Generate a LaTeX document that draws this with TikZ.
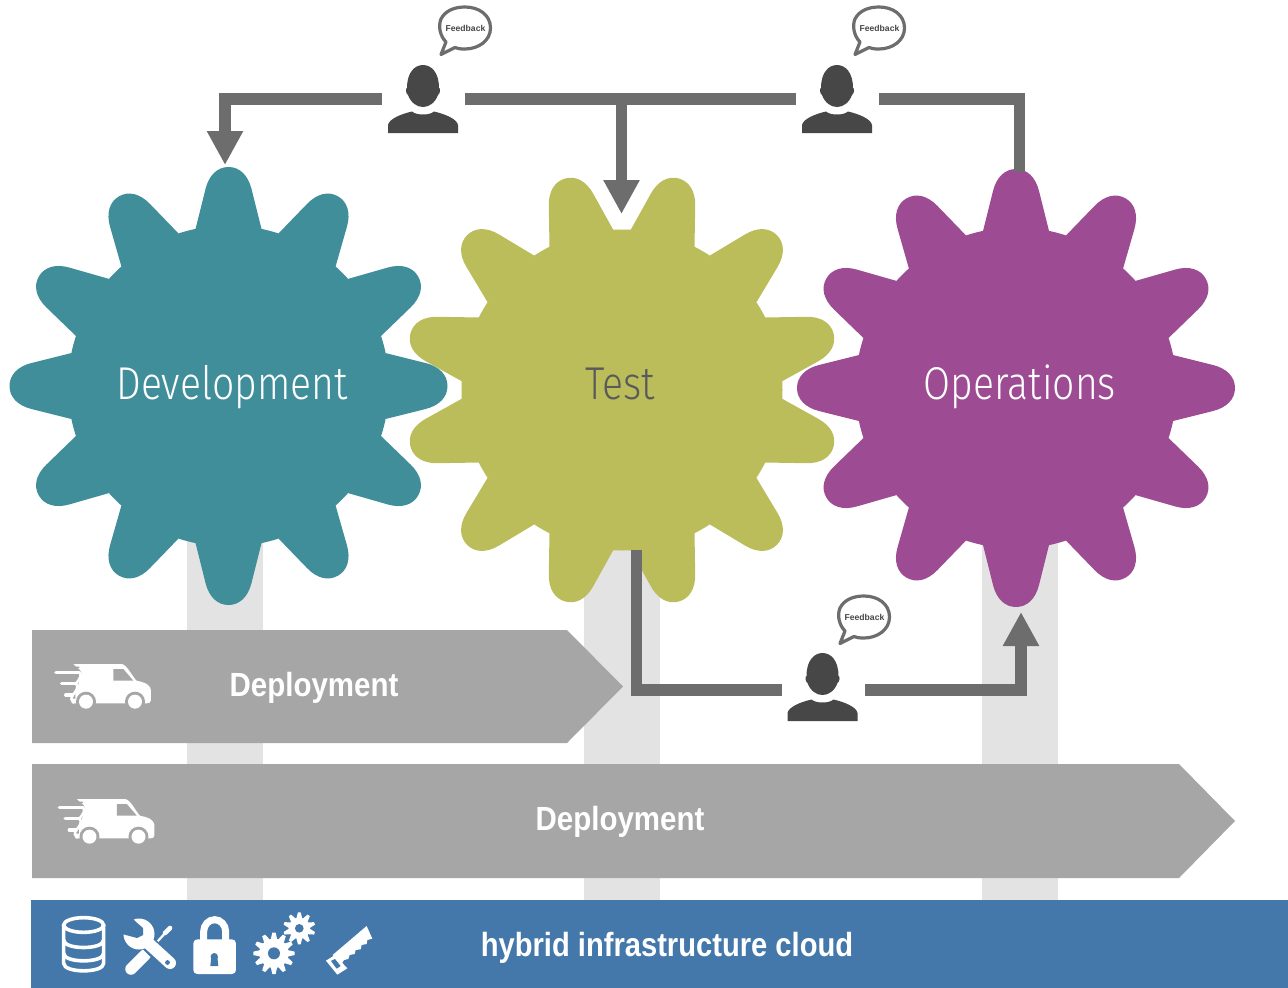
\documentclass[tikz,border=0pt]{standalone}
\usepackage{fontspec}
\setmainfont{Liberation Sans}
\newfontfamily\gearfont{Fira Sans Light}[FakeStretch=0.85]
\newfontfamily\deployfont{Liberation Sans}[FakeStretch=0.88]
\newfontfamily\cloudfont{Liberation Sans}[FakeStretch=0.87]
\usetikzlibrary{arrows.meta}
\definecolor{conn}{HTML}{6D6D6D}
\definecolor{persondark}{HTML}{474747}
\definecolor{bargrey}{HTML}{E3E3E3}
\definecolor{deploygrey}{HTML}{A6A6A6}
\definecolor{cloudblue}{HTML}{4478AB}
\definecolor{gearteal}{HTML}{418E9B}
\definecolor{gearolive}{HTML}{BBBD5B}
\definecolor{gearpurple}{HTML}{9D4C93}
\tikzset{
 x=1pt,y=-1pt,
 connector/.style={draw=conn,line width=11.5pt,line join=miter},
 arrowconn/.style={connector,-{Triangle[width=34pt,length=34pt]}},
 personbox/.style={minimum width=83pt,minimum height=11pt,inner sep=0pt,outer sep=0pt},
 geartext/.style={inner sep=0pt,anchor=base,font=\gearfont\fontsize{46}{50}\selectfont},
 deploytext/.style={inner sep=0pt,text=white,font=\deployfont\bfseries\fontsize{33.5}{36}\selectfont},
 cloudtext/.style={inner sep=0pt,text=white,font=\cloudfont\bfseries\fontsize{33.5}{36}\selectfont},
 feedbacktext/.style={inner sep=0pt,text=persondark,font=\bfseries\fontsize{8.6}{10}\selectfont},
 gearicon/.pic={
  \fill[pic actions] (0,0) circle [radius=160.5];
  \foreach \a in {0,30,...,330}{
   \fill[pic actions,rotate=\a+\gearoff] (-33,-157) -- (-23,-197) .. controls (-19.5,-211) and (-11,-219) .. (0,-219)
     .. controls (11,-219) and (19.5,-211) .. (23,-197) -- (33,-157) -- cycle;
  }
 },
 personicon/.pic={
  \fill[persondark] (-16,-11) .. controls (-16,-27) and (-8,-34) .. (0,-34)
    .. controls (8,-34) and (16,-27) .. (16,-11)
    .. controls (18,-11) and (17,-5) .. (15,-4)
    .. controls (12,4) and (6,8) .. (0,8)
    .. controls (-6,8) and (-12,4) .. (-15,-4)
    .. controls (-17,-5) and (-18,-11) .. (-16,-11) -- cycle;
  \fill[persondark] (-35,34) -- (-35,26) .. controls (-34,20) and (-22,15) .. (-11,12.5)
    .. controls (-8,15) and (-4,15.5) .. (0,15.5)
    .. controls (4,15.5) and (8,15) .. (11,12.5)
    .. controls (22,15) and (34,20) .. (35,26) -- (35,34) -- cycle;
 },
 bubbleicon/.pic={
  \draw[conn,fill=white,line width=3.2pt,line join=round]
    (-19,14) .. controls (-25,8) and (-27,-2) .. (-24,-9)
    .. controls (-20,-17) and (-11,-21) .. (0,-21)
    .. controls (14,-21) and (25.5,-13) .. (25.5,0)
    .. controls (25.5,13) and (13,21) .. (0,21)
    .. controls (-5,21) and (-8,20.5) .. (-10,19.5)
    -- (-24,26.5) -- cycle;
 },
 vanicon/.pic={
  \begin{scope}[x=.3333pt,y=-.3333pt]
  \fill[white] (100,42) -- (245,42) .. controls (262,44) and (280,85) .. (290,92)
    .. controls (310,97) and (333,100) .. (333,125) -- (333,150) .. controls (333,158) and (328,160) .. (320,160)
    -- (100,160) .. controls (96,160) and (92,155) .. (95,150) -- (110,120) -- (125,70) .. controls (122,55) and (105,50) .. (100,42) -- cycle;
  \fill[deploygrey] (40,50) rectangle (118,54) (40,54) rectangle (112,78) (40,78) rectangle (100,90) (40,88) rectangle (112,112) (40,112) rectangle (95,124) (40,124) rectangle (106,146);
  \draw[white,line width=3.6pt,line cap=round] (48,67) -- (118,67);
  \draw[white,line width=3.4pt,line cap=round] (65,101) -- (108,101);
  \draw[white,line width=3.2pt,line cap=round] (77,135) -- (98,135);
  \draw[white,line width=2.6pt,line cap=round] (118,67) .. controls (128,75) and (118,88) .. (108,101);
  \draw[white,line width=2.6pt,line cap=round] (108,101) .. controls (118,110) and (108,125) .. (98,135) .. controls (92,145) and (94,152) .. (100,158);
  \fill[deploygrey] (220,57) -- (250,57) -- (280,92) -- (220,92) -- cycle;
  \fill[deploygrey] (138,155) circle [radius=30] (285,155) circle [radius=30];
  \fill[deploygrey] (100,162) rectangle (320,180);
  \fill[white] (138,155) circle [radius=21] (285,155) circle [radius=21];
  \end{scope}
 }
}
\newcommand{\gearoff}{0}
\begin{document}
\begin{tikzpicture}
\useasboundingbox (0,0) rectangle (1288,988);
\fill[white] (0,0) rectangle (1288,988);

% pale columns
\fill[bargrey] (187,530) rectangle (263,900);
\fill[bargrey] (584,540) rectangle (660,900);
\fill[bargrey] (982,530) rectangle (1058,900);

% deployment bands
\fill[deploygrey] (32,630) -- (567,630) -- (623,686.5) -- (567,743) -- (32,743) -- cycle;
\fill[deploygrey] (32,764) -- (1179,764) -- (1235,821) -- (1179,878) -- (32,878) -- cycle;
\node[deploytext] (dep1) at (314,688) {Deployment};
\node[deploytext] (dep2) at (620,822) {Deployment};
\pic at (40,650) {vanicon};
\pic at (43.5,785) {vanicon};

% cloud bar
\fill[cloudblue] (31,900) rectangle (1288,988);
\node[cloudtext] (cloud) at (667,947.5) {hybrid infrastructure cloud};

% gears
\pic[fill=gearteal] at (228.5,386) {gearicon};
\renewcommand{\gearoff}{15}
\pic[fill=gearolive] at (622,390) {gearicon};
\renewcommand{\gearoff}{0}
\pic[fill=gearpurple] at (1016,388) {gearicon};
\node[geartext,text=white] (dev) at (232,399.5) {Development};
\node[geartext,text=persondark!90] (tst) at (620,399.5) {Test};
\node[geartext,text=white] (ops) at (1020,399.5) {Operations};

% people
\node[personbox] (p1) at (423.5,99) {};
\node[personbox] (p2) at (837.5,99) {};
\node[personbox] (p3) at (823.5,690) {};
\pic at (423,99) {personicon};
\pic at (837,99) {personicon};
\pic at (822.5,687) {personicon};
\pic at (465,28) {bubbleicon};
\pic at (879,28) {bubbleicon};
\pic at (864,617) {bubbleicon};
\node[feedbacktext] (f1) at (465.5,28) {Feedback};
\node[feedbacktext] (f2) at (879.5,28) {Feedback};
\node[feedbacktext] (f3) at (864.5,617) {Feedback};

% connector ends
\coordinate (devtip) at (225,165);
\coordinate (tsttip) at (621.5,214);
\coordinate (branch) at (621.5,99);
\coordinate (opsin) at (1019.5,172);
\coordinate (tstout) at (636.5,550);
\coordinate (opstip) at (1021,612);

\draw[arrowconn] (p1.west) -| (devtip);
\draw[connector] (p1.east) -- (p2.west);
\draw[arrowconn] (branch) -- (tsttip);
\draw[connector] (p2.east) -| (opsin);
\draw[connector] (tstout) |- (p3.west);
\draw[arrowconn] (p3.east) -| (opstip);

% tool icons, in reference pixels
\draw[white,line width=2.2pt,line cap=round] (168,930) -- (157,942);
\draw[white,line width=4.6pt,line cap=round] (170,928) -- (165,933);
\draw[white,line width=11.5pt,line cap=round] (145,955) -- (131,969);
\draw[cloudblue,line width=16pt] (141,936) -- (156,951);
\draw[white,line width=12pt,line cap=round] (147,942) -- (170,963);
\fill[white] (139,934) circle [radius=15.5];
\fill[cloudblue] (135,921) -- (143,928) -- (143,935) -- (137,938) -- (122,934) -- (118,920) -- (128,912) -- cycle;
\fill[cloudblue] (167.5,962.5) circle [radius=2.4];

\begin{scope}[shift={(30,890)},x=.3333pt,y=-.3333pt]
 % database
 \draw[white,line width=3.6pt] (161,105) ellipse [x radius=60,y radius=22];
 \draw[white,line width=3.6pt,line join=round] (101,105) -- (101,220) .. controls (101,250) and (221,250) .. (221,220) -- (221,105);
 \draw[white,line width=3.6pt] (101,150) .. controls (101,180) and (221,180) .. (221,150);
 \draw[white,line width=3.6pt] (101,190) .. controls (101,220) and (221,220) .. (221,190);
 % lock
 \draw[white,line width=7pt] (521,150) -- (521,125) arc [start angle=180,end angle=360,x radius=33,y radius=36] -- (587,150);
 \fill[white,rounded corners=4pt] (490,148) rectangle (618,252);
 \fill[cloudblue] (553,200) circle [radius=11];
 \fill[cloudblue] (544,200) -- (562,200) -- (565,228) -- (541,228) -- cycle;
 % gears
 \fill[white] (732,190) circle [radius=44];
 \foreach \a in {0,30,...,330}{
  \fill[white,rotate around={\a:(732,190)}] (722,150) -- (727,128) -- (737,128) -- (742,150) -- cycle;
 }
 \fill[cloudblue] (732,190) circle [radius=18];
 \fill[white] (808,115) circle [radius=32];
 \foreach \a in {0,36,...,324}{
  \fill[white,rotate around={\a:(808,115)}] (798,90) -- (804,67) -- (812,67) -- (818,90) -- cycle;
 }
 \fill[cloudblue] (808,115) circle [radius=13];
 % saw
 \fill[white] (1010,108) -- (1027,146) -- (1012,150) -- (1010,162) -- (995,165) -- (992,178) -- (977,180) -- (974,192) -- (959,195) -- (955,207) -- (942,210) -- (935,222) -- (908,195) -- cycle;
 \fill[white] (888,212) -- (915,195) -- (952,235) -- (922,254) -- cycle;
 \fill[cloudblue] (903,213) -- (915,207) -- (932,228) -- (920,236) -- cycle;
\end{scope}
\end{tikzpicture}
\end{document}
